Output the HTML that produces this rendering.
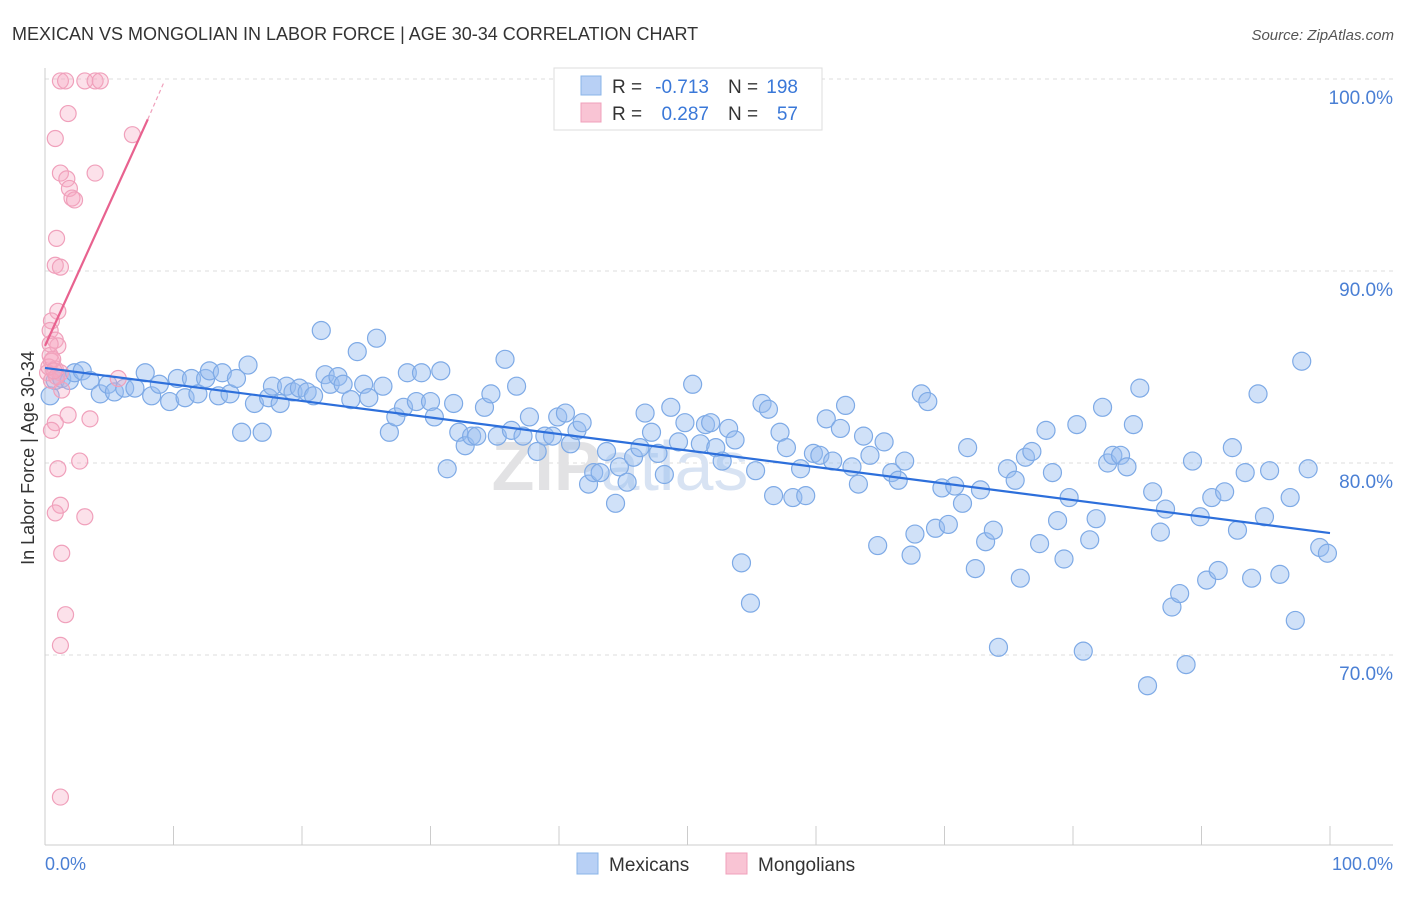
<!DOCTYPE html>
<html><head><meta charset="utf-8"><style>
body{margin:0;background:#fff;font-family:"Liberation Sans",sans-serif}
svg text{font-family:"Liberation Sans",sans-serif}
</style></head><body>
<svg id="chart" width="1406" height="892">
<text x="12" y="40" font-size="18" fill="#333">MEXICAN VS MONGOLIAN IN LABOR FORCE | AGE 30-34 CORRELATION CHART</text>
<text x="1394" y="40" font-size="15" fill="#555" font-style="italic" text-anchor="end">Source: ZipAtlas.com</text>
<g id="grid"></g>
<text x="620" y="490" font-size="70" font-weight="bold" fill="#e2e2e4" text-anchor="middle">ZIP<tspan font-weight="normal" fill="#d8e3f3">atlas</tspan></text>
<g id="axes"></g>
<g id="pts"></g>
<g id="lines"></g>
<text x="34" y="458" font-size="18" fill="#333" text-anchor="middle" transform="rotate(-90 34 458)">In Labor Force | Age 30-34</text>
<text x="45" y="870" font-size="18" fill="#4a7fd4">0.0%</text>
<text x="1393" y="870" font-size="18" fill="#4a7fd4" text-anchor="end">100.0%</text>
<g>
<rect x="554" y="68" width="268" height="62" fill="#fff" stroke="#ddd"/>
<rect x="581" y="76" width="20" height="19" fill="#b8d0f5" stroke="#8ab4e8"/>
<rect x="581" y="103" width="20" height="19" fill="#f9c4d4" stroke="#f0a0bb"/>
<text x="612" y="93" font-size="19" fill="#333">R =</text>
<text x="709" y="93" font-size="19" fill="#3a78d8" text-anchor="end">-0.713</text>
<text x="728" y="93" font-size="19" fill="#333">N =</text>
<text x="798" y="93" font-size="19" fill="#3a78d8" text-anchor="end">198</text>
<text x="612" y="120" font-size="19" fill="#333">R =</text>
<text x="709" y="120" font-size="19" fill="#3a78d8" text-anchor="end">0.287</text>
<text x="728" y="120" font-size="19" fill="#333">N =</text>
<text x="798" y="120" font-size="19" fill="#3a78d8" text-anchor="end">57</text>
</g>
<g>
<rect x="577" y="853" width="21" height="21" fill="#b8d0f5" stroke="#8ab4e8"/>
<text x="609" y="871" font-size="19" fill="#333">Mexicans</text>
<rect x="726" y="853" width="21" height="21" fill="#f9c4d4" stroke="#f0a0bb"/>
<text x="758" y="871" font-size="19" fill="#333">Mongolians</text>
</g>
</svg>
<script>
const yTicks=[100,90,80,70];
const yTickLabels=["100.0%","90.0%","80.0%","70.0%"];
const xTicks=[0,10,20,30,40,50,60,70,80,90,100];
const blueX=[0.4,0.8,1.3,1.9,2.3,2.9,3.5,4.3,4.9,5.4,6.2,7.0,7.8,8.3,8.9,9.7,10.3,10.9,11.4,11.9,12.5,12.8,13.5,13.8,14.4,14.9,15.3,15.8,16.3,16.9,17.4,17.7,18.3,18.8,19.3,19.8,20.4,20.9,21.5,21.8,22.2,22.8,23.2,23.8,24.3,24.8,25.2,25.8,26.3,26.8,27.3,27.9,28.2,28.9,29.3,30.0,30.3,30.8,31.3,31.8,32.2,32.7,33.2,33.6,34.2,34.7,35.2,35.8,36.3,36.7,37.2,37.7,38.3,38.9,39.5,39.9,40.5,40.9,41.4,41.8,42.3,42.7,43.2,43.7,44.4,44.7,45.3,45.8,46.3,46.7,47.2,47.7,48.2,48.7,49.3,49.8,50.4,51.0,51.4,51.8,52.2,52.7,53.2,53.7,54.2,54.9,55.3,55.8,56.3,56.7,57.2,57.7,58.2,58.8,59.2,59.8,60.3,60.8,61.3,61.9,62.3,62.8,63.3,63.7,64.2,64.8,65.3,65.9,66.4,66.9,67.4,67.7,68.2,68.7,69.3,69.8,70.3,70.8,71.4,71.8,72.4,72.8,73.2,73.8,74.2,74.9,75.5,75.9,76.3,76.8,77.4,77.9,78.4,78.8,79.3,79.7,80.3,80.8,81.3,81.8,82.3,82.7,83.1,83.7,84.2,84.7,85.2,85.8,86.2,86.8,87.2,87.7,88.3,88.8,89.3,89.9,90.4,90.8,91.3,91.8,92.4,92.8,93.4,93.9,94.4,94.9,95.3,96.1,96.9,97.3,97.8,98.3,99.2,99.8];
const blueY=[83.5,84.3,84.4,84.3,84.7,84.8,84.3,83.6,84.1,83.7,83.9,83.9,84.7,83.5,84.1,83.2,84.4,83.4,84.4,83.6,84.4,84.8,83.5,84.7,83.6,84.4,81.6,85.1,83.1,81.6,83.4,84.0,83.1,84.0,83.7,83.9,83.7,83.5,86.9,84.6,84.1,84.5,84.1,83.3,85.8,84.1,83.4,86.5,84.0,81.6,82.4,82.9,84.7,83.2,84.7,83.2,82.4,84.8,79.7,83.1,81.6,80.9,81.4,81.4,82.9,83.6,81.4,85.4,81.7,84.0,81.4,82.4,80.6,81.4,81.4,82.4,82.6,81.0,81.7,82.1,78.9,79.5,79.5,80.6,77.9,79.8,79.0,80.3,80.8,82.6,81.6,80.5,79.4,82.9,81.1,82.1,84.1,81.0,82.0,82.1,80.8,80.1,81.8,81.2,74.8,72.7,79.6,83.1,82.8,78.3,81.6,80.8,78.2,79.7,78.3,80.5,80.4,82.3,80.1,81.8,83.0,79.8,78.9,81.4,80.4,75.7,81.1,79.5,79.1,80.1,75.2,76.3,83.6,83.2,76.6,78.7,76.8,78.8,77.9,80.8,74.5,78.6,75.9,76.5,70.4,79.7,79.1,74.0,80.3,80.6,75.8,81.7,79.5,77.0,75.0,78.2,82.0,70.2,76.0,77.1,82.9,80.0,80.4,80.4,79.8,82.0,83.9,68.4,78.5,76.4,77.6,72.5,73.2,69.5,80.1,77.2,73.9,78.2,74.4,78.5,80.8,76.5,79.5,74.0,83.6,77.2,79.6,74.2,78.2,71.8,85.3,79.7,75.6,75.3];
const pinkX=[1.2,1.6,3.1,3.9,4.3,1.8,0.8,6.8,1.2,3.9,1.7,1.9,2.1,2.3,0.9,0.8,1.2,1.0,0.5,0.4,0.8,1.0,0.4,0.5,0.8,0.2,1.2,0.5,5.7,1.3,1.8,3.5,0.8,0.5,2.7,1.0,1.2,0.8,3.1,1.3,1.6,1.2,1.2,0.3,0.6,0.9,0.4,0.7];
const pinkY=[99.9,99.9,99.9,99.9,99.9,98.2,96.9,97.1,95.1,95.1,94.8,94.3,93.8,93.7,91.7,90.3,90.2,87.9,87.4,86.9,86.4,86.1,85.6,85.3,84.9,84.7,84.7,84.3,84.4,83.8,82.5,82.3,82.1,81.7,80.1,79.7,77.8,77.4,77.2,75.3,72.1,70.5,62.6,85.0,85.4,84.5,86.2,84.8];
const blueTrend=[0,84.95,100,76.35];
const pinkTrend=[0,86.1,8,97.9,9.3,99.9];
const X0=45,X1=1330,YT=79,YS=19.2;
const sx=v=>X0+(X1-X0)*v/100, sy=v=>YT+(100-v)*YS;
const NS="http://www.w3.org/2000/svg";
function mk(t,a,p){const e=document.createElementNS(NS,t);for(const k in a)e.setAttribute(k,a[k]);p.appendChild(e);return e;}
const grid=document.getElementById('grid'),axes=document.getElementById('axes'),pts=document.getElementById('pts'),lines=document.getElementById('lines');
yTicks.forEach((t,i)=>{
 const l=mk('line',{x1:45,x2:1393,y1:sy(t),y2:sy(t),stroke:'#dcdcdc','stroke-dasharray':'4 4'},grid);
 
 
 const tx=mk('text',{x:1393,y:sy(t)+25,'font-size':19,fill:'#4a7fd4','text-anchor':'end'},axes);
 tx.textContent=yTickLabels[i];
 
 
});
let a=mk('line',{x1:45,x2:45,y1:68,y2:845,stroke:'#ccc'},axes);


a=mk('line',{x1:45,x2:1393,y1:845,y2:845,stroke:'#ccc'},axes);


xTicks.forEach(t=>{const l=mk('line',{x1:sx(t),x2:sx(t),y1:826,y2:845,stroke:'#ccc'},axes);
 
 });
blueX.forEach((x,i)=>{const c=mk('circle',{cx:sx(x),cy:sy(blueY[i]),r:9,fill:'rgba(150,188,240,0.45)',stroke:'#7eaae6','stroke-width':1.2},pts);
 
 });
pinkX.forEach((x,i)=>{const c=mk('circle',{cx:sx(x),cy:sy(pinkY[i]),r:8,fill:'rgba(245,170,195,0.35)',stroke:'#f0a0bb','stroke-width':1.2},pts);
 
 });
let tl=mk('line',{x1:sx(blueTrend[0]),y1:sy(blueTrend[1]),x2:sx(blueTrend[2]),y2:sy(blueTrend[3]),stroke:'#2d6fdb','stroke-width':2.2},lines);


tl=mk('line',{x1:sx(pinkTrend[0]),y1:sy(pinkTrend[1]),x2:sx(pinkTrend[2]),y2:sy(pinkTrend[3]),stroke:'#e8628f','stroke-width':2.2},lines);


tl=mk('line',{x1:sx(pinkTrend[2]),y1:sy(pinkTrend[3]),x2:sx(pinkTrend[4]),y2:sy(pinkTrend[5]),stroke:'#f0a0bb','stroke-width':1.2,'stroke-dasharray':'4 3'},lines);


</script>
</body></html>
